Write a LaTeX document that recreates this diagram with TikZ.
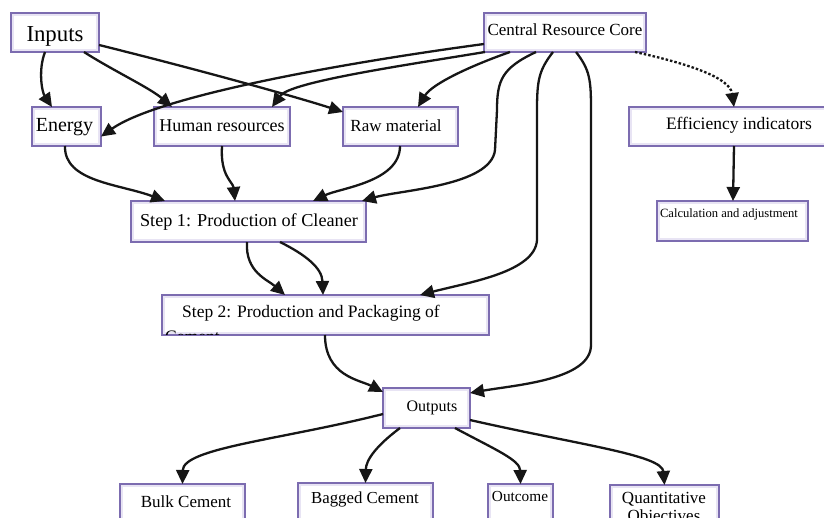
\documentclass[tikz,border=0pt]{standalone}
\usepackage{fontspec}
\setmainfont{Liberation Serif}
\usetikzlibrary{arrows.meta,calc}
\definecolor{bpurple}{RGB}{124,108,176}
\definecolor{blav}{RGB}{232,228,244}
\definecolor{edgec}{RGB}{22,22,22}
\newcommand\fs[1]{\fontsize{#1}{#1}\selectfont}
\newcommand\mkbox[5]{\node[box, minimum width={(#4)-(#2)}, minimum height={(#5)-(#3)}] (#1) at ({((#2)+(#4))/2},{((#3)+(#5))/2}) {};}
\tikzset{
  box/.style={draw=bpurple, line width=1.3pt, fill=white, inner sep=0pt, outer sep=0pt,
    path picture={\draw[blav, line width=1.6pt]
      ([xshift=2.2pt,yshift=-2.2pt]path picture bounding box.north west) rectangle
      ([xshift=-2.2pt,yshift=2.2pt]path picture bounding box.south east);}},
  lbl/.style={anchor=base, inner sep=0pt, text=black},
  conn/.style={draw=edgec, line width=2.3pt, -{Triangle[length=14pt,width=13pt]}},
  dconn/.style={draw=edgec, line width=2.3pt, dash pattern=on 2.5pt off 2pt, -{Triangle[length=14pt,width=13pt]}}
}
\begin{document}
\begin{tikzpicture}[x=1pt,y=-1pt]
\useasboundingbox (0,0) rectangle (824,517);
\clip (0,0) rectangle (824,517);
\fill[white] (0,0) rectangle (824,517);
% boxes
\mkbox{inputs}{11}{13}{99}{52}
\mkbox{energy}{32}{107}{101}{146}
\mkbox{human}{154}{107}{290}{146}
\mkbox{raw}{343}{107}{458}{146}
\mkbox{central}{484}{13}{646}{52}
\mkbox{eff}{629}{107}{828}{146}
\mkbox{calc}{657}{201}{808}{241}
\mkbox{step1}{131}{201}{366}{242}
\mkbox{step2}{162}{295}{489}{335}
\mkbox{outputs}{383}{388}{470}{428}
\mkbox{bulk}{120}{484}{245}{545}
\mkbox{bagged}{298}{483}{433}{545}
\mkbox{outcome}{488}{484}{553}{545}
\mkbox{quant}{610}{485}{719}{545}
% labels
\node[lbl, font=\fs{22.8}] (tinputs) at (55,41) {Inputs};
\node[lbl, font=\fs{20}] (tenergy) at (64.5,131) {Energy};
\node[lbl, font=\fs{18}] (thuman) at (222,131) {Human resources};
\node[lbl, font=\fs{17}] (traw) at (396,131) {Raw material};
\node[lbl, font=\fs{17}] (tcentral) at (565,35) {Central Resource Core};
\node[lbl, font=\fs{17.5}] (teff) at (739,129) {Efficiency indicators};
\node[lbl, font=\fs{12.6}] (tcalc) at (729,217) {Calculation and adjustment};
\node[lbl, font=\fs{18.2}] (tstep1) at (249,226) {Step 1: Production of Cleaner};
\node[lbl, font=\fs{17.5}] (tstep2) at (311,317) {Step 2: Production and Packaging of};
\begin{scope}
\clip ([xshift=1pt,yshift=1pt]step2.south west) rectangle ([xshift=-1pt,yshift=-1pt]step2.north east);
\node[lbl, anchor=base west, font=\fs{17.5}] (tstep2b) at (165,342) {Cement};
\end{scope}
\node[lbl, font=\fs{16}] (toutputs) at (432,411) {Outputs};
\node[lbl, font=\fs{17}] (tbulk) at (186,507) {Bulk Cement};
\node[lbl, font=\fs{16.8}] (tbagged) at (365,503) {Bagged Cement};
\node[lbl, font=\fs{15.3}] (toutcome) at (520,501) {Outcome};
\node[lbl, font=\fs{17}] (tquant) at (664,503) {Quantitative};
\node[lbl, font=\fs{17}] (tquantb) at (664,521) {Objectives};
% connectors
\draw[conn] ([xshift=-10pt]inputs.south) .. controls (38,70) and (42,92) .. ([xshift=-14.5pt]energy.north);
\draw[conn] ([xshift=29pt]inputs.south) .. controls (112,70) and (150,88) .. ([xshift=-50pt]human.north);
\draw[conn] ([yshift=-12.5pt]inputs.east) .. controls (200,70) and (300,98) .. ([yshift=-5pt]raw.north west);
\draw[conn] ([yshift=-11.5pt]central.west) .. controls (350,62) and (160,95) .. ([yshift=-10pt]energy.east);
\draw[conn] ([xshift=1pt]central.south west) .. controls (400,66) and (290,82) .. ([xshift=50pt]human.north);
\draw[conn] ([xshift=-55pt]central.south) .. controls (470,66) and (432,84) .. ([xshift=17.5pt]raw.north);
\draw[conn] ([xshift=-29pt]central.south) .. controls (502,68) and (497,80) .. (497,110) -- (495,150) .. controls (491,186) and (400,190) .. ([xshift=113.5pt]step1.north);
\draw[conn] ([xshift=-12pt]central.south) .. controls (539,70) and (537,80) .. (537,110) -- (537,240) .. controls (535,272) and (470,282) .. ([xshift=94.5pt]step2.north);
\draw[conn] ([xshift=11pt]central.south) .. controls (590,70) and (591,80) .. (591,110) -- (591,345) .. controls (591,380) and (515,385) .. ([yshift=-5pt]outputs.north east);
\draw[dconn] ([xshift=70pt]central.south) .. controls (690,64) and (730,78) .. ([xshift=5.5pt]eff.north);
\draw[conn] ([xshift=5.5pt]eff.south) -- ([xshift=0.5pt]calc.north);
\draw[conn] ([xshift=-1.5pt]energy.south) .. controls (64,182) and (120,184) .. ([xshift=-83.5pt]step1.north);
\draw[conn] (human.south) .. controls (220,176) and (233,182) .. ([xshift=-13.5pt]step1.north);
\draw[conn] ([xshift=-0.5pt]raw.south) .. controls (400,182) and (340,188) .. ([xshift=64.5pt]step1.north);
\draw[conn] ([xshift=-1.5pt]step1.south) .. controls (245,272) and (268,280) .. ([xshift=-40.5pt]step2.north);
\draw[conn] ([xshift=31.5pt]step1.south) .. controls (306,255) and (322,268) .. ([xshift=-2.5pt]step2.north);
\draw[conn] ([xshift=-0.5pt]step2.south) .. controls (325,376) and (360,380) .. ([yshift=-4pt]outputs.north west);
\draw[conn] ([yshift=-6pt]outputs.west) .. controls (280,440) and (183,448) .. (bulk.north);
\draw[conn] ([xshift=-26.5pt]outputs.south) .. controls (376,446) and (366,460) .. (bagged.north);
\draw[conn] ([xshift=28.5pt]outputs.south) .. controls (496,450) and (520,460) .. (outcome.north);
\draw[conn] ([yshift=-12pt]outputs.east) .. controls (580,445) and (662,455) .. (quant.north);
\end{tikzpicture}
\end{document}
